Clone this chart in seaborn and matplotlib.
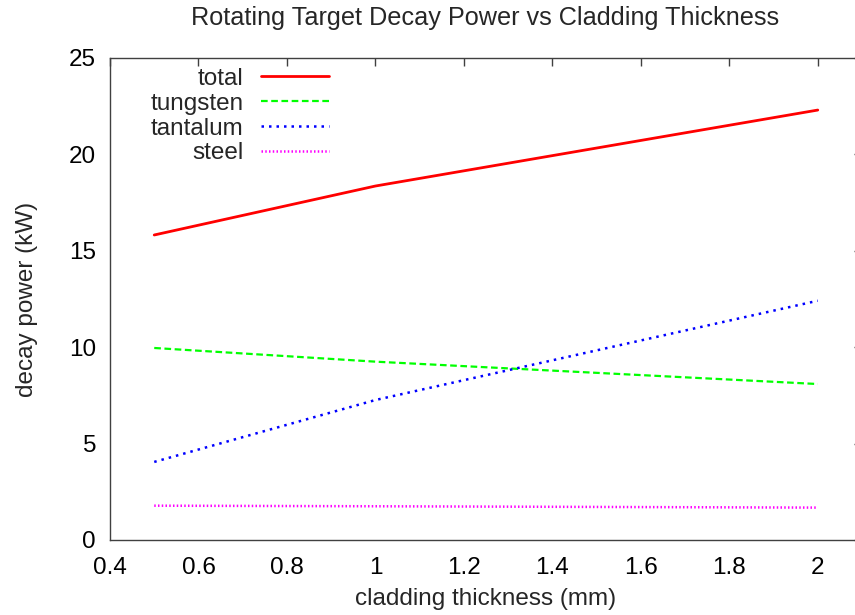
import matplotlib
matplotlib.use("Agg")
import matplotlib.pyplot as plt
import seaborn as sns
import pandas as pd

thickness = [0.5, 1.0, 2.0]
total = [15.82, 18.36, 22.30]
tungsten = [9.96, 9.25, 8.09]
tantalum = [4.05, 7.26, 12.41]
steel = [1.78, 1.75, 1.68]

series_names = ["total", "tungsten", "tantalum", "steel"]
series_vals = [total, tungsten, tantalum, steel]
colors = ["#ff0000", "#00ff00", "#0000ff", "#ff00ff"]
styles = ["-", (0, (3.0, 1.6)), (0, (1, 2.0)), (0, (0.6, 0.9))]
widths = [2.0, 1.6, 1.8, 1.8]

x_ticks = [0.4, 0.6, 0.8, 1.0, 1.2, 1.4, 1.6, 1.8, 2.0]
x_tick_labels = ["0.4", "0.6", "0.8", "1", "1.2", "1.4", "1.6", "1.8", "2"]
y_ticks = [0, 5, 10, 15, 20, 25]

sns.set_style("white")
plt.rcParams["font.family"] = ["Liberation Sans", "DejaVu Sans"]

fig = plt.figure(figsize=(8.55, 6.15), dpi=100)
ax = fig.add_axes([110 / 855, 75 / 615, 752 / 855, 482 / 615])

for name, vals, c, ls, lw in zip(series_names, series_vals, colors, styles, widths):
    df = pd.DataFrame({"x": thickness, "y": vals})
    sns.lineplot(data=df, x="x", y="y", ax=ax, color=c, linestyle=ls,
                 linewidth=lw, label=name)

ax.set_xlim(0.4, 2.1)
ax.set_ylim(0, 25)
ax.set_xticks(x_ticks)
ax.set_xticklabels(x_tick_labels)
ax.set_yticks(y_ticks)
ax.tick_params(direction="in", length=6, width=1, colors="#404040",
               labelcolor="black", labelsize=17.5, top=True, right=True)
ax.tick_params(axis="x", pad=12)
ax.tick_params(axis="y", pad=10)
for s in ax.spines.values():
    s.set_color("#404040")
    s.set_linewidth(1)
    s.set_visible(True)

ax.set_xlabel("cladding thickness (mm)", fontsize=17.5)
ax.set_ylabel("decay power (kW)", fontsize=17.5)
ax.xaxis.set_label_coords(0.5, -0.1)
ax.yaxis.set_label_coords(-0.096, 0.5)
fig.text(485 / 855, 1 - 18 / 615,
         "Rotating Target Decay Power vs Cladding Thickness",
         fontsize=18.2, ha="center", va="center")

leg = ax.legend(loc="upper right", bbox_to_anchor=(0.291, 0.98),
                frameon=False, markerfirst=False, fontsize=17.5,
                handlelength=2.8, handletextpad=0.7, labelspacing=0.12,
                borderpad=0, borderaxespad=0)

fig.savefig("out.png", dpi=100)
